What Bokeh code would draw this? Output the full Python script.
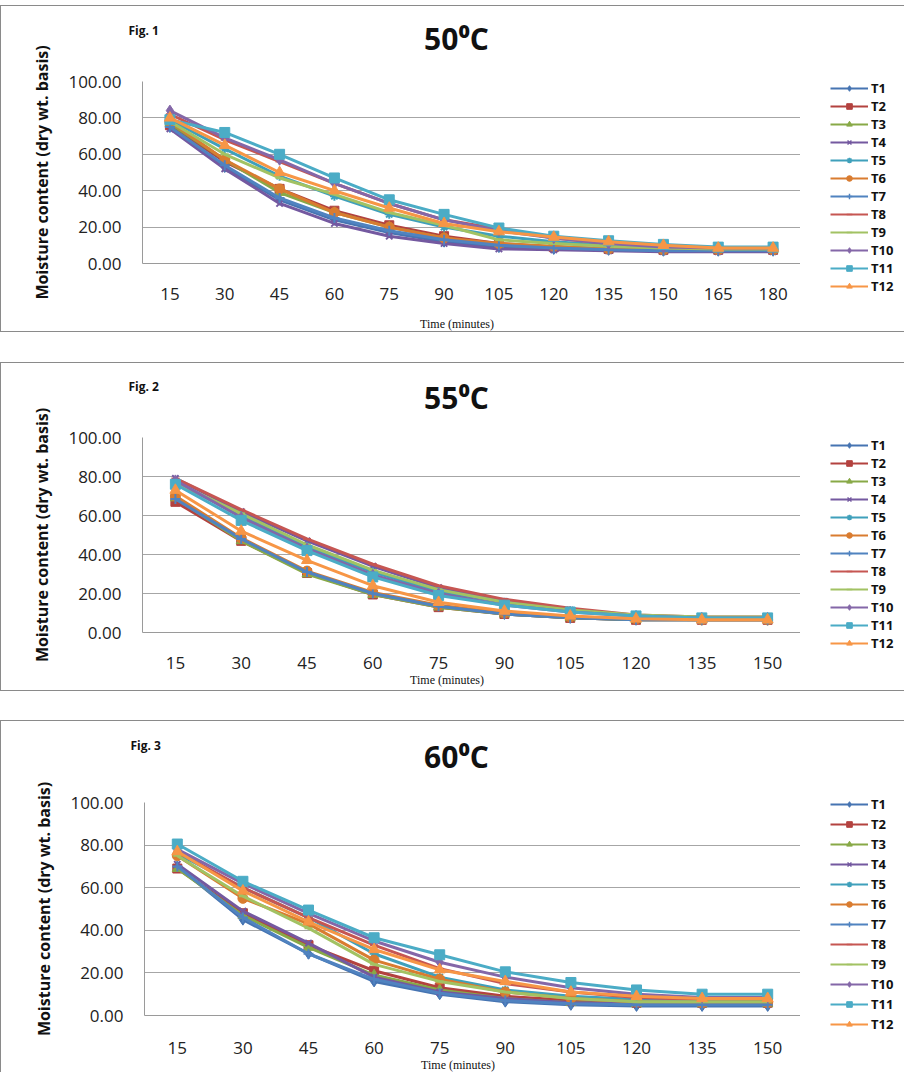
import numpy as np
from bokeh.plotting import figure
from bokeh.models import (FactorRange, Range1d, Legend, LegendItem, Label,
                          FixedTicker, PrintfTickFormatter)
from bokeh.layouts import column, row
from bokeh.embed import file_html
from bokeh.resources import INLINE

# ---------------- data ----------------
series_names = ["T1", "T2", "T3", "T4", "T5", "T6", "T7", "T8", "T9", "T10", "T11", "T12"]

times_50 = ["15", "30", "45", "60", "75", "90", "105", "120", "135", "150", "165", "180"]
c50_T1 = [75, 53, 35, 24, 17, 12, 9, 8, 7.5, 7, 7, 7]
c50_T2 = [76, 56, 41, 29, 21, 15, 11, 9, 8, 7.5, 7.5, 7.5]
c50_T3 = [77, 57, 39, 28, 20, 14, 10, 9, 8, 7.5, 7.5, 7.5]
c50_T4 = [74, 52, 33, 22, 15, 11, 8, 7.5, 7, 6.5, 6.5, 6.5]
c50_T5 = [79, 63, 48, 37, 27, 20, 15, 12, 10, 9, 8.5, 8.5]
c50_T6 = [78, 57, 41, 28, 20, 14, 11, 9.5, 8, 7.5, 7.5, 7.5]
c50_T7 = [75, 54, 36, 25, 18, 13, 10, 8.5, 7.5, 7, 7, 7]
c50_T8 = [82, 68, 56, 44, 33, 24, 19, 14, 11, 9, 8.5, 8.5]
c50_T9 = [78, 60, 47, 38, 28, 21, 13, 11, 9.5, 8.5, 8, 8]
c50_T10 = [84, 69, 57, 44, 33, 24, 18, 14, 11, 9, 8.5, 8.5]
c50_T11 = [79, 72, 60, 47, 35, 27, 19.5, 15, 12.5, 10.5, 9, 9]
c50_T12 = [80, 65, 50, 40, 30.5, 22, 17.5, 14.5, 12, 10, 8.5, 8.5]

times_55 = ["15", "30", "45", "60", "75", "90", "105", "120", "135", "150"]
c55_T1 = [68, 48, 31, 20, 13.5, 9.5, 7.5, 6.5, 6.5, 6.5]
c55_T2 = [67, 47, 30.5, 19.5, 13, 9.5, 7.5, 6.5, 6.5, 6.5]
c55_T3 = [69, 47, 30, 19.5, 13, 9.5, 7.5, 6.5, 6.5, 6.5]
c55_T4 = [79, 62, 47, 34, 23, 16, 11.5, 8.5, 7.5, 7.5]
c55_T5 = [77, 60, 44, 31, 21, 15.5, 11, 8.5, 7.5, 7.5]
c55_T6 = [70, 48.5, 31.5, 20.5, 14, 10, 8, 7, 6.5, 6.5]
c55_T7 = [68.5, 48, 31, 20, 13.5, 9.5, 7.5, 6.5, 6.5, 6.5]
c55_T8 = [79, 63, 48, 35, 24, 17, 12.5, 9, 8, 8]
c55_T9 = [77, 61, 45, 32, 22, 15.5, 11.5, 9, 8, 8]
c55_T10 = [78, 59, 43, 29.5, 20, 14, 10.5, 8.5, 7.5, 7.5]
c55_T11 = [76, 57.5, 42, 28.5, 19, 14, 10.5, 8.5, 7.5, 7.5]
c55_T12 = [73, 52, 37, 24, 15.5, 11, 8.5, 7, 6.5, 6.5]

times_60 = ["15", "30", "45", "60", "75", "90", "105", "120", "135", "150"]
c60_T1 = [70, 45, 29, 16, 10, 6.5, 5, 4.5, 4.5, 4.5]
c60_T2 = [69, 48, 33, 21, 13, 9, 7, 6, 6, 6]
c60_T3 = [69, 47, 32, 19, 12, 8, 6, 5.5, 5.5, 5.5]
c60_T4 = [71, 49, 34, 18, 11, 8, 6, 5.5, 5.5, 5.5]
c60_T5 = [76, 60, 46, 29, 18, 12, 9, 7.5, 7, 7]
c60_T6 = [75, 55, 43, 26, 17, 11, 8, 6.5, 6, 6]
c60_T7 = [70, 46, 29, 17, 10.5, 7, 5.5, 5, 5, 5]
c60_T8 = [77, 60, 46, 33, 22, 15, 11, 8.5, 7.5, 7.5]
c60_T9 = [75, 56, 41, 24, 16, 11, 8, 6.5, 6.5, 6.5]
c60_T10 = [78, 62, 48, 35, 25, 18, 13, 10, 8.5, 8.5]
c60_T11 = [80.5, 63, 49.5, 36.5, 28.5, 20.5, 15.5, 12, 10, 10]
c60_T12 = [77, 58.5, 44, 31, 21.5, 16, 11, 9, 8, 8]

y_ticks = [0, 20, 40, 60, 80, 100]

# ---------------- styles ----------------
colors = ["#4674B2", "#B3423F", "#88A947", "#7459A0", "#3FA0BB", "#D97C30",
          "#5083C0", "#C65652", "#A2C263", "#8467A8", "#4BACC6", "#F79646"]
markers = ["diamond", "square", "triangle", "x", "asterisk", "circle",
           "cross", "dash", "dash", "diamond", "square", "triangle"]
msizes = [11, 9, 10, 9, 9, 10, 10, 8, 8, 11, 10, 11]
filled = [True, True, True, False, False, True, False, False, False, True, True, True]

SANS = "Open Sans"
MAIN_W = 799
LEG_W = 104


def make_chart(times, data, title, fig_label, g):
    p = figure(width=MAIN_W, height=g["h"], x_range=FactorRange(factors=times),
               y_range=Range1d(0, 100), output_backend="svg", toolbar_location=None,
               min_border_left=g["bl"], min_border_right=0,
               min_border_top=g["bt"], min_border_bottom=g["bb"])
    p.frame_align = False
    p.outline_line_color = None
    p.background_fill_color = "white"
    p.border_fill_color = "white"
    p.xgrid.grid_line_color = None
    p.ygrid.grid_line_color = "#a6a6a6"
    p.ygrid.grid_line_width = 1
    p.ygrid.ticker = FixedTicker(ticks=y_ticks)

    p.yaxis.ticker = FixedTicker(ticks=y_ticks)
    p.yaxis.formatter = PrintfTickFormatter(format="%.2f")
    p.yaxis.axis_line_color = "#9a9a9a"
    p.yaxis.major_tick_line_color = None
    p.yaxis.minor_tick_line_color = None
    p.yaxis.major_label_standoff = 15
    p.yaxis.major_label_text_font = SANS
    p.yaxis.major_label_text_font_size = "17px"
    p.yaxis.major_label_text_color = "#222222"
    p.yaxis.axis_label = "Moisture content (dry wt. basis)"
    p.yaxis.axis_label_text_font = SANS
    p.yaxis.axis_label_text_font_style = "bold"
    p.yaxis.axis_label_text_font_size = "16px"
    p.yaxis.axis_label_text_color = "#111111"
    p.yaxis.axis_label_standoff = 12

    p.xaxis.axis_line_color = "#9a9a9a"
    p.xaxis.major_tick_line_color = None
    p.xaxis.minor_tick_line_color = None
    p.xaxis.major_label_standoff = g["xs"]
    p.xaxis.major_label_text_font = SANS
    p.xaxis.major_label_text_font_size = "17px"
    p.xaxis.major_label_text_color = "#222222"

    for vals, c, m, s, f in zip(data, colors, markers, msizes, filled):
        p.line(times, vals, line_color=c, line_width=3)
        p.scatter(times, vals, marker=m, size=s, line_color=c,
                  fill_color=c if f else None, line_width=2 if not f else 1)

    # title and figure number, in panels above the frame
    p.add_layout(Label(x=g["tt"][0], y=g["tt"][1], x_units="screen", y_units="screen",
                       text=title, text_font=SANS, text_font_style="bold",
                       text_font_size="30px", text_align="center", text_baseline="middle",
                       text_color="#111111"), "above")
    p.add_layout(Label(x=g["fig"][0], y=g["fig"][1], x_units="screen", y_units="screen",
                       text=fig_label, text_font=SANS, text_font_style="bold",
                       text_font_size="12px", text_align="left", text_baseline="middle",
                       text_color="#111111"), "above")
    # x-axis title, in a panel below the axis
    p.add_layout(Label(x=g["tm"][0], y=g["tm"][1], x_units="screen", y_units="screen",
                       text="Time  (minutes)", text_font="Liberation Serif",
                       text_font_size="12px", text_align="center", text_baseline="middle",
                       text_color="#111111"), "below")

    # legend in its own narrow figure on the right
    lf = figure(width=LEG_W, height=g["h"], x_range=Range1d(0, 1), y_range=Range1d(0, 1),
                output_backend="svg", toolbar_location=None,
                x_axis_location=None, y_axis_location=None,
                min_border_left=0, min_border_right=0, min_border_top=0, min_border_bottom=0)
    lf.frame_align = False
    lf.outline_line_color = None
    lf.xgrid.visible = False
    lf.ygrid.visible = False
    lf.background_fill_color = "white"
    lf.border_fill_color = "white"
    proxy = np.array([np.nan])
    items = []
    for name, c, m, s, f in zip(series_names, colors, markers, msizes, filled):
        lr = lf.line(proxy, proxy, line_color=c, line_width=2)
        sr = lf.scatter(proxy, proxy, marker=m, size=s, line_color=c,
                        fill_color=c if f else None, line_width=1.5 if not f else 1)
        items.append(LegendItem(label=name, renderers=[lr, sr]))
    leg = Legend(items=items, location=g["leg"], orientation="vertical",
                 glyph_width=38, glyph_height=14, label_height=14,
                 spacing=g["sp"], padding=0, margin=0, label_standoff=3,
                 border_line_color=None, background_fill_alpha=0,
                 label_text_font=SANS, label_text_font_style="bold",
                 label_text_font_size="13px", label_text_color="#111111")
    lf.add_layout(leg)

    return row(p, lf, spacing=0, styles=g["css"])


border = "1px solid #8a8a8a"
g1 = dict(h=325, bl=141, bt=75, bb=68, xs=18,
          css={"border-left": border, "border-top": border, "border-bottom": border,
               "margin-top": "5px"},
          leg=(30, 36), sp=0, fig=(-14, 10), tt=(314, 43), tm=(316, -7))
g2 = dict(h=327, bl=141, bt=74, bb=58, xs=18,
          css={"border-left": border, "border-top": border, "border-bottom": border,
               "margin-top": "30px"},
          leg=(30, 38), sp=0, fig=(-14, 10), tt=(314, 40), tm=(306, 6))
g3 = dict(h=351, bl=143, bt=81, bb=57, xs=20,
          css={"border-left": border, "border-top": border, "margin-top": "29px"},
          leg=(30, 39), sp=2, fig=(-14, 16), tt=(312, 46), tm=(315, 6))

d50 = [c50_T1, c50_T2, c50_T3, c50_T4, c50_T5, c50_T6, c50_T7, c50_T8, c50_T9, c50_T10, c50_T11, c50_T12]
d55 = [c55_T1, c55_T2, c55_T3, c55_T4, c55_T5, c55_T6, c55_T7, c55_T8, c55_T9, c55_T10, c55_T11, c55_T12]
d60 = [c60_T1, c60_T2, c60_T3, c60_T4, c60_T5, c60_T6, c60_T7, c60_T8, c60_T9, c60_T10, c60_T11, c60_T12]

r1 = make_chart(times_50, d50, "50\u2070C", "Fig. 1", g1)
r2 = make_chart(times_55, d55, "55\u2070C", "Fig. 2", g2)
r3 = make_chart(times_60, d60, "60\u2070C", "Fig. 3", g3)

layout = column(r1, r2, r3, spacing=0)
open("out.html", "w").write(file_html(layout, INLINE))
